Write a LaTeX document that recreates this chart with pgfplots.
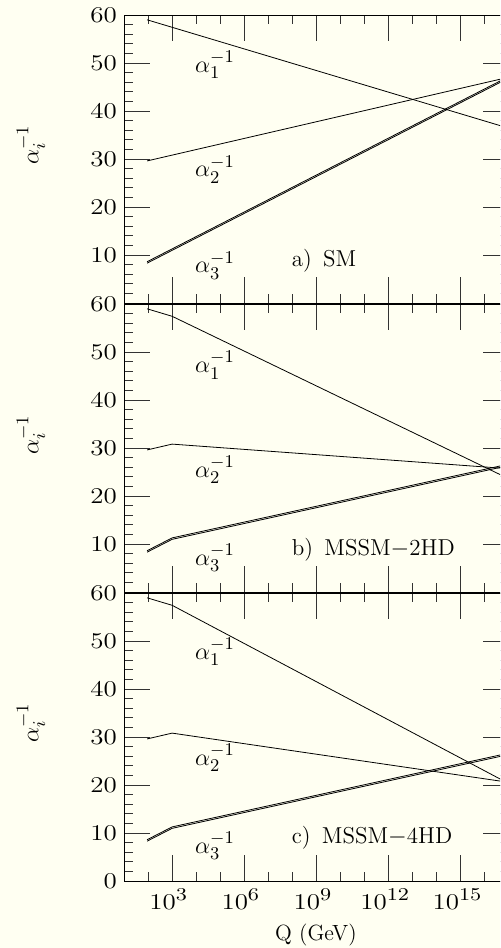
\documentclass[border=0pt]{standalone}
\usepackage{fontspec}
\usepackage{pgfplots}
\pgfplotsset{compat=1.18}
\definecolor{paper}{RGB}{255,255,242}
\newfontfamily\tickfont{Latin Modern Roman}[FakeStretch=1.2]
\newcommand{\pw}[1]{{\tickfont 10\raisebox{0.42em}{\fontsize{9}{9}\selectfont #1}}}

% 1 px of the reference = 0.5pt
\pgfplotsset{
  alphapanel/.style={
    anchor=south west, scale only axis,
    width=192.5pt, height=144pt,
    xmin=1e1, xmax=1e17, ymin=0, ymax=60,
    xtick={1e3,1e6,1e9,1e12,1e15},
    minor xtick={1e2,1e4,1e5,1e7,1e8,1e10,1e11,1e13,1e14,1e16},
    ytick={10,20,...,60}, minor ytick={2,4,...,58},
    xticklabels={},
    tick align=inside,
    major tick length=13pt, minor tick length=4.5pt,
    every tick/.style={black!80, line width=0.45pt},
    axis line style={black, line width=0.45pt},
    /pgf/number format/assume math mode=true,
    ticklabel style={font=\fontsize{11.25}{11.25}\tickfont},
  },
  curve/.style={black, line width=0.4pt, no markers},
}

\begin{document}
\begin{tikzpicture}
\useasboundingbox (0,0) rectangle (250pt,474pt);
\fill[paper] (0,0) rectangle (250pt,474pt);
\clip (0,0) rectangle (250pt,474pt);

% a) SM
\begin{semilogxaxis}[alphapanel, at={(62pt,322.5pt)}]
\addplot[curve] coordinates {(91.2,59.0) (1e17,36.4)};
\addplot[curve] coordinates {(91.2,29.6) (1e17,47.05)};
\addplot[curve] coordinates {(91.2,8.3) (1e17,46.9)};
\addplot[curve] coordinates {(91.2,8.6) (1e17,47.2)};
\node[anchor=base west, font=\fontsize{12.5}{12.5}\selectfont] at (axis cs:4.6e3,48.1) {$\alpha_1^{-1}$};
\node[anchor=base west, font=\fontsize{12.5}{12.5}\selectfont] at (axis cs:4.6e3,26.25) {$\alpha_2^{-1}$};
\node[anchor=base west, font=\fontsize{12.5}{12.5}\selectfont] at (axis cs:4.6e3,6.25) {$\alpha_3^{-1}$};
\node[anchor=base west, font=\fontsize{11.5}{11.5}\selectfont] at (axis cs:4.8e7,7.5) {a)\, SM};
\end{semilogxaxis}

% b) MSSM-2HD
\begin{semilogxaxis}[alphapanel, at={(62pt,178pt)}]
\addplot[curve] coordinates {(91.2,59.0) (1e3,57.44) (1e17,23.57)};
\addplot[curve] coordinates {(91.2,29.6) (1e3,30.81) (1e17,25.68)};
\addplot[curve] coordinates {(91.2,8.3) (1e3,10.97) (1e17,26.36)};
\addplot[curve] coordinates {(91.2,8.6) (1e3,11.27) (1e17,26.66)};
\node[anchor=base west, font=\fontsize{12.5}{12.5}\selectfont] at (axis cs:4.6e3,45.7) {$\alpha_1^{-1}$};
\node[anchor=base west, font=\fontsize{12.5}{12.5}\selectfont] at (axis cs:4.6e3,23.9) {$\alpha_2^{-1}$};
\node[anchor=base west, font=\fontsize{12.5}{12.5}\selectfont] at (axis cs:4.6e3,5.6) {$\alpha_3^{-1}$};
\node[anchor=base west, font=\fontsize{11.5}{11.5}\selectfont] at (axis cs:4.8e7,7.7) {b)\, MSSM$-$2HD};
\end{semilogxaxis}

% c) MSSM-4HD
\begin{semilogxaxis}[alphapanel, at={(62pt,33.5pt)},
  ytick={0,10,...,60},
  xticklabels={\pw{3},\pw{6},\pw{9},\pw{12},\pw{15}},
  xticklabel style={xshift=-2pt}]
\addplot[curve] coordinates {(91.2,59.0) (1e3,57.44) (1e17,20.27)};
\addplot[curve] coordinates {(91.2,29.6) (1e3,30.81) (1e17,20.55)};
\addplot[curve] coordinates {(91.2,8.3) (1e3,10.97) (1e17,26.36)};
\addplot[curve] coordinates {(91.2,8.6) (1e3,11.27) (1e17,26.66)};
\node[anchor=base west, font=\fontsize{12.5}{12.5}\selectfont] at (axis cs:4.6e3,46.2) {$\alpha_1^{-1}$};
\node[anchor=base west, font=\fontsize{12.5}{12.5}\selectfont] at (axis cs:4.6e3,24.1) {$\alpha_2^{-1}$};
\node[anchor=base west, font=\fontsize{12.5}{12.5}\selectfont] at (axis cs:4.6e3,5.8) {$\alpha_3^{-1}$};
\node[anchor=base west, font=\fontsize{11.5}{11.5}\selectfont] at (axis cs:4.8e7,7.9) {c)\, MSSM$-$4HD};
\end{semilogxaxis}

% axis titles
\node[rotate=90, font=\fontsize{12.5}{12.5}\selectfont] at (15.5pt,401.5pt) {$\alpha_i^{-1}$};
\node[rotate=90, font=\fontsize{12.5}{12.5}\selectfont] at (15.5pt,256.5pt) {$\alpha_i^{-1}$};
\node[rotate=90, font=\fontsize{12.5}{12.5}\selectfont] at (15.5pt,112.5pt) {$\alpha_i^{-1}$};
\node[font=\fontsize{11}{11}\selectfont] at (158pt,6.5pt) {Q (GeV)};
\end{tikzpicture}
\end{document}
